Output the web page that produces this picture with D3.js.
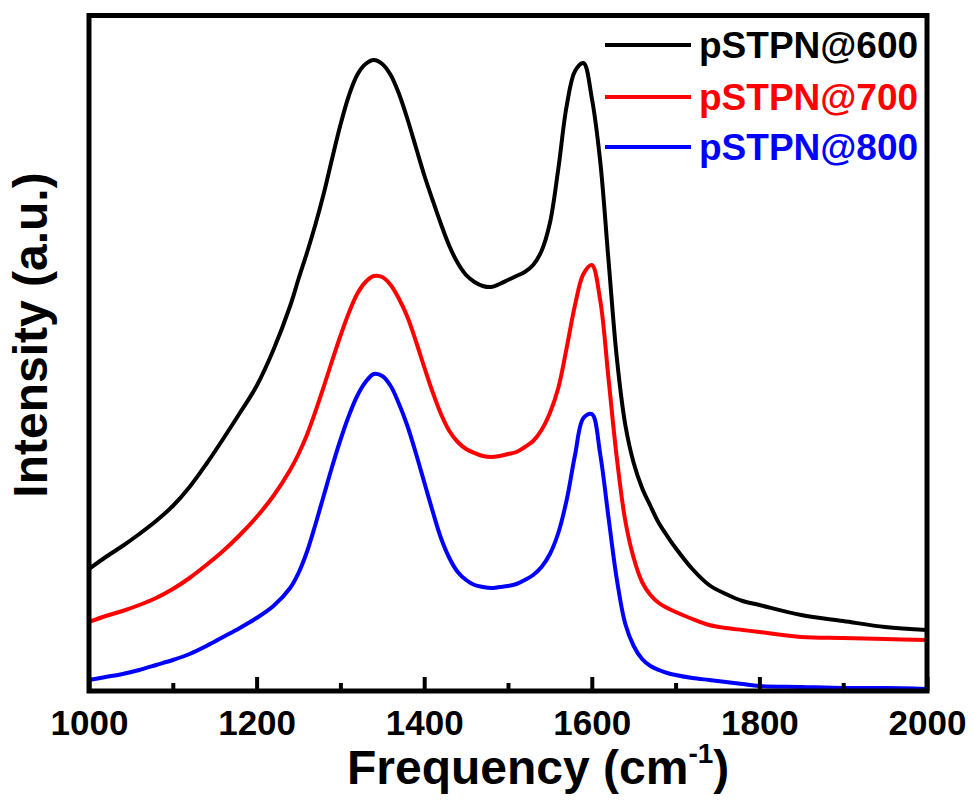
<!DOCTYPE html>
<html>
<head>
<meta charset="utf-8">
<script src="https://cdn.jsdelivr.net/npm/d3@7"></script>
<style>
  html, body { margin: 0; padding: 0; background: #ffffff; }
  svg { display: block; }
  text { font-family: "Liberation Sans", Arial, Helvetica, sans-serif; font-weight: bold; }
</style>
</head>
<body>
<svg id="chart" width="974" height="801"></svg>
<script>
// Raman shift (cm-1) at which each spectrum is sampled
const wavenumber = [
  1000, 1020, 1040, 1060, 1080, 1100, 1120, 1140, 1160, 1180, 1200, 1220, 1240,
  1250, 1260, 1270, 1280, 1290, 1300, 1310, 1320, 1330, 1340,
  1350, 1360, 1370, 1380, 1390, 1400, 1410, 1420, 1430, 1440,
  1450, 1460, 1470, 1480, 1490, 1500, 1510, 1520, 1530, 1540,
  1550, 1560, 1570, 1580, 1590, 1600, 1610, 1620, 1630, 1640,
  1650, 1660, 1670, 1680, 1690, 1700,
  1720, 1740, 1760, 1780, 1800,
  1850, 1900, 1950, 2000
];

// Intensity (a.u.) of the three carbonised samples
const pSTPN600 = [
  122, 134, 145, 157, 170, 185, 204, 227, 252, 278, 305, 341, 385,
  412, 438, 466, 497, 532, 566, 595, 616, 627, 631,
  627, 616, 597, 572, 544, 516, 491, 467, 445, 428,
  416, 409, 405, 404, 407, 411, 415, 419, 426, 440,
  468, 522, 585, 620, 628, 593, 530, 430, 332, 266,
  228, 203, 185, 168, 155, 143,
  122, 106, 97, 90, 86,
  76, 70, 64, 61
];
const pSTPN700 = [
  69, 75, 80, 86, 93, 102, 113, 126, 140, 156, 174, 195, 221,
  237, 256, 279, 304, 330, 355, 378, 397, 409, 415,
  414, 406, 392, 374, 350, 324, 299, 277, 260, 249,
  242, 238, 235, 234, 235, 237, 239, 244, 250, 261,
  278, 303, 343, 386, 417, 426, 391, 312, 232, 170,
  133, 109, 96, 88, 83, 79,
  72, 66, 63, 61, 59,
  54, 53, 52, 51
];
const pSTPN800 = [
  11, 14, 17, 21, 26, 31, 37, 45, 54, 63, 73, 85, 103,
  118, 139, 166, 195, 224, 251, 275, 295, 309, 317,
  315, 305, 287, 265, 238, 209, 180, 153, 133, 119,
  111, 106, 104, 103, 104, 105, 107, 111, 116, 124,
  137, 158, 191, 236, 273, 277, 237, 173, 111, 67,
  45, 32, 25, 21, 18, 16,
  13, 11, 9, 7, 5,
  4, 3, 3, 2
];

const seriesNames = ["pSTPN@600", "pSTPN@700", "pSTPN@800"];
const seriesValues = [pSTPN600, pSTPN700, pSTPN800];
const seriesColors = ["#000000", "#ff0000", "#0000ff"];

const xMajorTicks = [1000, 1200, 1400, 1600, 1800, 2000];
const xMinorTicks = [1100, 1300, 1500, 1700, 1900];
const xDomain = [1000, 2000];
const yDomain = [0, 675.5];

const xTitle = "Frequency (cm";
const xTitleSup = "-1";
const xTitleEnd = ")";
const yTitle = "Intensity (a.u.)";

// ---- layout ----
const plot = { left: 89, right: 927, top: 15.5, bottom: 691 };

const svg = d3.select("#chart");
svg.append("rect").attr("width", 974).attr("height", 801).attr("fill", "#ffffff");

const x = d3.scaleLinear().domain(xDomain).range([plot.left, plot.right]);
const y = d3.scaleLinear().domain(yDomain).range([plot.bottom, plot.top]);

svg.append("clipPath").attr("id", "plot-clip")
  .append("rect")
  .attr("x", plot.left).attr("y", plot.top)
  .attr("width", plot.right - plot.left).attr("height", plot.bottom - plot.top);

// ---- spectra ----
const line = d3.line()
  .x(d => x(d[0]))
  .y(d => y(d[1]))
  .curve(d3.curveCatmullRom.alpha(0.5));

const curves = svg.append("g").attr("clip-path", "url(#plot-clip)");
seriesValues.forEach((vals, i) => {
  const pts = wavenumber.map((w, j) => [w, vals[j]]);
  curves.append("path")
    .datum(pts)
    .attr("fill", "none")
    .attr("stroke", seriesColors[i])
    .attr("stroke-width", 4)
    .attr("stroke-linejoin", "round")
    .attr("d", line);
});

// ---- bottom axis: inward ticks ----
const majorAxis = d3.axisBottom(x).tickValues(xMajorTicks).tickSize(-14).tickFormat(d3.format("d"));
const gMajor = svg.append("g").attr("transform", `translate(0,${plot.bottom})`).call(majorAxis);
gMajor.select(".domain").remove();
gMajor.selectAll(".tick line").attr("stroke", "#000").attr("stroke-width", 4);
gMajor.selectAll(".tick text")
  .attr("y", 44).attr("dy", null)
  .attr("fill", "#000")
  .style("font-size", "35px");

const minorAxis = d3.axisBottom(x).tickValues(xMinorTicks).tickSize(-8).tickFormat("");
const gMinor = svg.append("g").attr("transform", `translate(0,${plot.bottom})`).call(minorAxis);
gMinor.select(".domain").remove();
gMinor.selectAll(".tick line").attr("stroke", "#000").attr("stroke-width", 4);

// ---- frame ----
svg.append("rect")
  .attr("x", plot.left).attr("y", plot.top)
  .attr("width", plot.right - plot.left).attr("height", plot.bottom - plot.top)
  .attr("fill", "none").attr("stroke", "#000").attr("stroke-width", 5);

// ---- axis titles ----
const xt = svg.append("text")
  .attr("x", 347).attr("y", 784)
  .style("font-size", "48px").attr("fill", "#000");
xt.append("tspan").text(xTitle);
xt.append("tspan").text(xTitleSup).style("font-size", "28px").attr("dy", -21);
xt.append("tspan").text(xTitleEnd).attr("dy", 21);

svg.append("text")
  .attr("transform", "translate(47,335) rotate(-90)")
  .attr("text-anchor", "middle")
  .style("font-size", "48px").attr("fill", "#000")
  .text(yTitle);

// ---- legend ----
const legendRows = [45, 97, 147];
const legend = svg.append("g");
seriesNames.forEach((name, i) => {
  legend.append("line")
    .attr("x1", 605).attr("x2", 691)
    .attr("y1", legendRows[i]).attr("y2", legendRows[i])
    .attr("stroke", seriesColors[i]).attr("stroke-width", 4);
  legend.append("text")
    .attr("x", 699).attr("y", legendRows[i] + 13)
    .attr("fill", seriesColors[i])
    .style("font-size", "37px")
    .text(name);
});
</script>
</body>
</html>
